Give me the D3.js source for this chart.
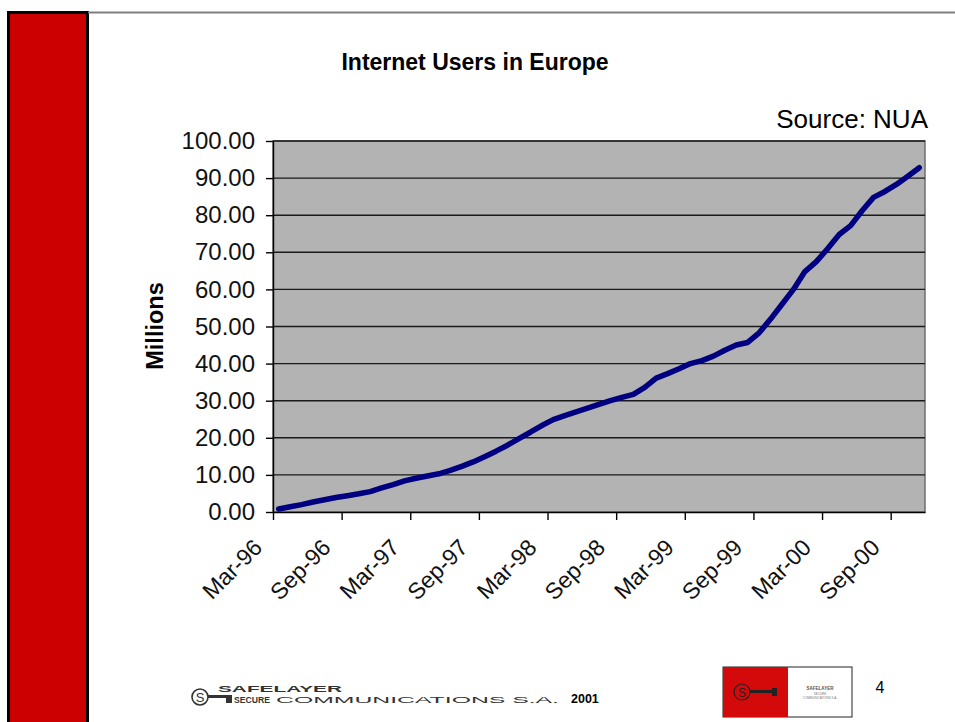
<!DOCTYPE html>
<html>
<head>
<script src="https://d3js.org/d3.v7.min.js"></script>
<style>
  body { margin: 0; background: #fff; }
  text { font-family: "Liberation Sans", Arial, sans-serif; }
</style>
</head>
<body>
<script>
// monthly Internet users in Europe (millions), Mar-96 .. Nov-00
const users = [
  0.8, 1.4, 2.0, 2.7, 3.3, 3.9, 4.4, 4.9, 5.5, 6.5, 7.4, 8.4,
  9.1, 9.7, 10.3, 11.2, 12.3, 13.5, 14.9, 16.4, 18.0, 19.8, 21.5, 23.3,
  24.9, 26.0, 27.0, 28.0, 29.0, 30.0, 30.9, 31.7, 33.6, 36.1, 37.3, 38.6,
  40.0, 40.8, 42.0, 43.6, 45.0, 45.7, 48.3, 52.0, 56.0, 60.0, 64.8, 67.5,
  71.0, 74.8, 77.2, 81.2, 84.8, 86.4, 88.3, 90.5, 92.8
];
const xTickLabels = ['Mar-96', 'Sep-96', 'Mar-97', 'Sep-97', 'Mar-98',
                     'Sep-98', 'Mar-99', 'Sep-99', 'Mar-00', 'Sep-00'];
const yTicks = [0, 10, 20, 30, 40, 50, 60, 70, 80, 90, 100];

const width = 955, height = 722;
const plot = { left: 273, right: 925, top: 141, bottom: 512 };

const svg = d3.select('body').append('svg')
    .attr('width', width)
    .attr('height', height);

// slide frame: red side bar and top rule
svg.append('rect')
    .attr('x', 8.5).attr('y', 12.5)
    .attr('width', 79).attr('height', 720)
    .attr('fill', '#cc0000')
    .attr('stroke', '#000').attr('stroke-width', 3);
svg.append('line')
    .attr('x1', 88).attr('x2', width)
    .attr('y1', 12.5).attr('y2', 12.5)
    .attr('stroke', '#7f7f7f').attr('stroke-width', 2);

const x = d3.scaleLinear()
    .domain([0, users.length])
    .range([plot.left, plot.right]);

const y = d3.scaleLinear()
    .domain([0, 100])
    .range([plot.bottom, plot.top]);

// plot area
svg.append('rect')
    .attr('x', plot.left).attr('y', plot.top)
    .attr('width', plot.right - plot.left)
    .attr('height', plot.bottom - plot.top)
    .attr('fill', '#b3b3b3')
    .attr('stroke', '#6e6e6e').attr('stroke-width', 1.5);

svg.append('g')
    .selectAll('line')
    .data(yTicks.slice(1))
    .join('line')
    .attr('x1', plot.left).attr('x2', plot.right)
    .attr('y1', d => y(d)).attr('y2', d => y(d))
    .attr('stroke', '#1a1a1a').attr('stroke-width', 1.4);

const yAxis = svg.append('g')
    .attr('transform', `translate(${plot.left}, 0)`)
    .call(d3.axisLeft(y).tickValues(yTicks).tickSize(7).tickSizeOuter(0)
        .tickPadding(11).tickFormat(d3.format('.2f')));
yAxis.selectAll('line, path').attr('stroke', '#000').attr('stroke-width', 1.4);
yAxis.selectAll('text')
    .attr('font-size', 24)
    .attr('fill', '#111')
    .attr('font-family', '"Liberation Sans", Arial, sans-serif');

const xAxis = svg.append('g')
    .attr('transform', `translate(0, ${plot.bottom})`)
    .call(d3.axisBottom(x).tickValues(xTickLabels.map((d, i) => i * 6))
        .tickSize(8).tickSizeOuter(0).tickFormat((d, i) => xTickLabels[i]));
xAxis.selectAll('line, path').attr('stroke', '#000').attr('stroke-width', 1.4);
xAxis.selectAll('text')
    .attr('font-size', 23)
    .attr('fill', '#111')
    .attr('font-family', '"Liberation Sans", Arial, sans-serif')
    .attr('text-anchor', 'end')
    .attr('x', 0).attr('y', 0).attr('dy', 0)
    .attr('transform', 'translate(-10, 37) rotate(-45)');

// data line
svg.append('path')
    .datum(users)
    .attr('fill', 'none')
    .attr('stroke', '#000080')
    .attr('stroke-width', 5.5)
    .attr('stroke-linejoin', 'round')
    .attr('stroke-linecap', 'round')
    .attr('d', d3.line().x((d, i) => x(i + 0.5)).y(d => y(d)));

// titles
svg.append('text')
    .attr('x', 475).attr('y', 70)
    .attr('text-anchor', 'middle')
    .attr('font-size', 23).attr('font-weight', 'bold')
    .text('Internet Users in Europe');

svg.append('text')
    .attr('x', 928).attr('y', 128)
    .attr('text-anchor', 'end')
    .attr('font-size', 26)
    .text('Source: NUA');

svg.append('text')
    .attr('transform', 'translate(163, 326) rotate(-90)')
    .attr('text-anchor', 'middle')
    .attr('font-size', 23.5).attr('font-weight', 'bold')
    .text('Millions');

// footer: company logo and name
const foot = svg.append('g');
foot.append('circle')
    .attr('cx', 200).attr('cy', 697).attr('r', 8)
    .attr('fill', 'none').attr('stroke', '#333').attr('stroke-width', 1.6);
foot.append('text')
    .attr('x', 200).attr('y', 702)
    .attr('text-anchor', 'middle')
    .attr('font-size', 13).attr('fill', '#333')
    .text('S');
foot.append('rect')
    .attr('x', 208).attr('y', 695).attr('width', 24).attr('height', 3)
    .attr('fill', '#333');
foot.append('rect')
    .attr('x', 226).attr('y', 695).attr('width', 6).attr('height', 8)
    .attr('fill', '#333');
foot.append('text')
    .attr('x', 218).attr('y', 692)
    .attr('font-size', 8.5).attr('font-weight', 'bold').attr('fill', '#333')
    .attr('textLength', 124).attr('lengthAdjust', 'spacingAndGlyphs')
    .text('SAFELAYER');
foot.append('text')
    .attr('x', 234).attr('y', 703)
    .attr('font-size', 9.5).attr('font-weight', 'bold').attr('fill', '#333')
    .attr('textLength', 36).attr('lengthAdjust', 'spacingAndGlyphs')
    .text('SECURE');
foot.append('text')
    .attr('x', 276).attr('y', 703)
    .attr('font-size', 9.5).attr('fill', '#333')
    .attr('textLength', 283).attr('lengthAdjust', 'spacingAndGlyphs')
    .text('COMMUNICATIONS S.A.');
foot.append('text')
    .attr('x', 571).attr('y', 703)
    .attr('font-size', 12.5).attr('font-weight', 'bold')
    .text('2001');

// small logo box bottom right
const logo = svg.append('g');
logo.append('rect')
    .attr('x', 723).attr('y', 667).attr('width', 129).attr('height', 50)
    .attr('fill', '#fff').attr('stroke', '#222').attr('stroke-width', 1);
logo.append('rect')
    .attr('x', 723).attr('y', 667).attr('width', 65).attr('height', 50)
    .attr('fill', '#d40a0a');
logo.append('circle')
    .attr('cx', 742).attr('cy', 692).attr('r', 8)
    .attr('fill', 'none').attr('stroke', '#222').attr('stroke-width', 1.2);
logo.append('text')
    .attr('x', 742).attr('y', 697)
    .attr('text-anchor', 'middle').attr('font-size', 12).attr('fill', '#222')
    .text('S');
logo.append('rect')
    .attr('x', 750).attr('y', 690).attr('width', 27).attr('height', 3)
    .attr('fill', '#222');
logo.append('rect')
    .attr('x', 772).attr('y', 688).attr('width', 5).attr('height', 8)
    .attr('fill', '#222');
logo.append('text')
    .attr('x', 820).attr('y', 690)
    .attr('text-anchor', 'middle').attr('font-size', 4.5).attr('font-weight', 'bold')
    .attr('fill', '#555')
    .text('SAFELAYER');
logo.append('text')
    .attr('x', 820).attr('y', 695)
    .attr('text-anchor', 'middle').attr('font-size', 3).attr('fill', '#777')
    .text('SECURE');
logo.append('text')
    .attr('x', 820).attr('y', 699)
    .attr('text-anchor', 'middle').attr('font-size', 3).attr('fill', '#777')
    .text('COMMUNICATIONS S.A.');

svg.append('text')
    .attr('x', 880).attr('y', 693)
    .attr('text-anchor', 'middle')
    .attr('font-size', 16)
    .attr('font-family', '"DejaVu Sans", sans-serif')
    .text('4');
</script>
</body>
</html>
